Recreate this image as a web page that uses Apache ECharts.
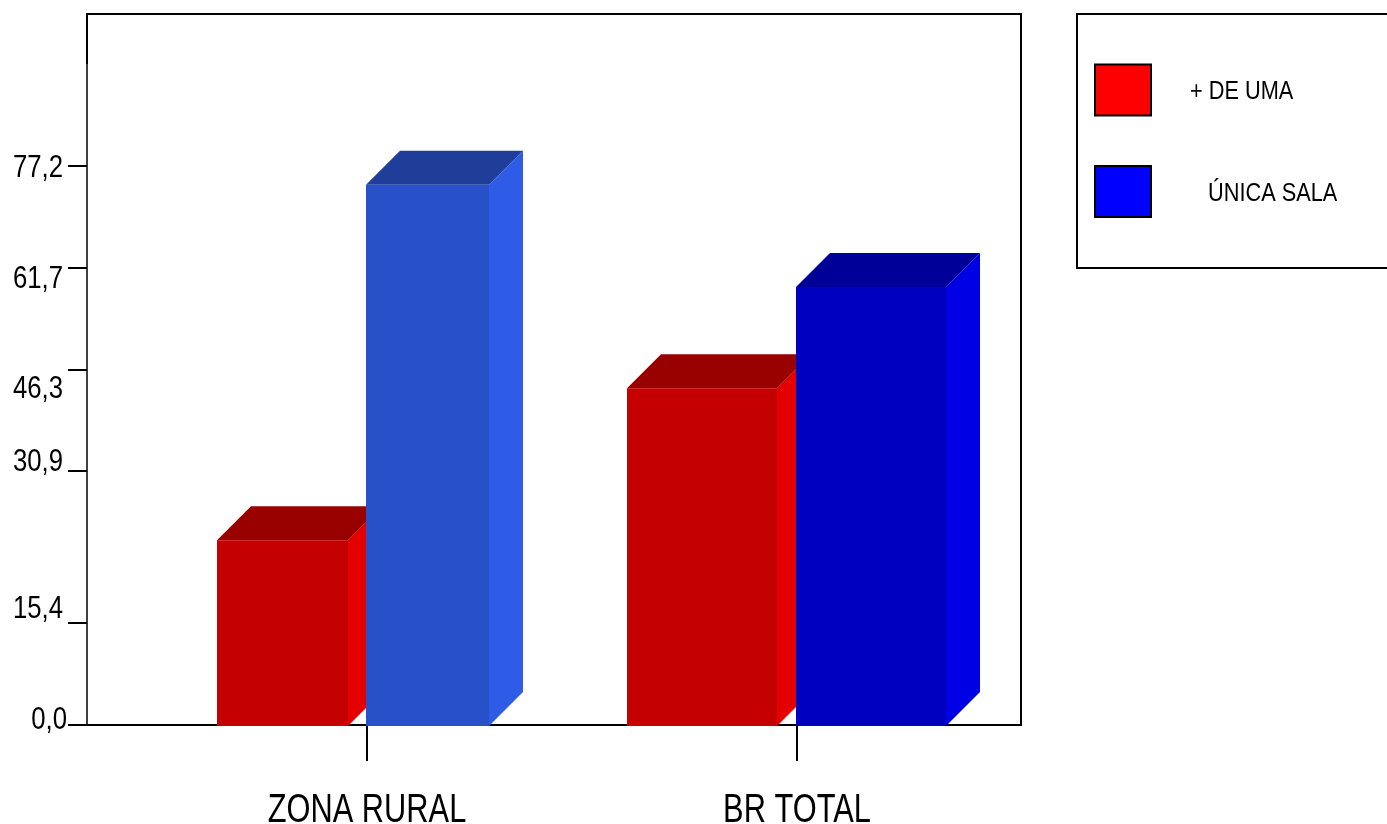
<!DOCTYPE html>
<html>
<head>
<meta charset="utf-8">
<title>Escolas por número de salas</title>
<style>html,body{margin:0;padding:0;background:#fff}#chart{width:1387px;height:824px}</style>
<script src="https://cdn.jsdelivr.net/npm/echarts@6/dist/echarts.min.js"></script>
</head>
<body>
<div id="chart"></div>
<script>
// Data
const categories = ['ZONA RURAL', 'BR TOTAL'];
const seriesNames = ['+ DE UMA', 'ÚNICA SALA'];
const deUma = [25.5, 46.5];
const unicaSala = [74.6, 60.5];

// Vertical axis: tick marks, their printed labels, and where each label sits
const tickLabels = ['0,0', '15,4', '30,9', '46,3', '61,7', '77,2'];
const tickValues = [0, 14.1, 35.1, 49.1, 63.1, 77.2];
const labelValues = [0.64, 15.9, 36.2, 46.3, 61.6, 76.8];

// Bar geometry in pixels relative to each category tick: [left, right]
const barExtents = [
  [[-150, -19], [-170, -20]],
  [[-1, 122], [-1, 149]]
];
const depth = 34;

// Face colours per series and category: front, top, side
const faces = [
  [['#c40000', '#990000', '#e40000'], ['#c40000', '#990000', '#e40000']],
  [['#2850c8', '#1f3e99', '#2f5ce6'], ['#0000c0', '#000098', '#0000e4']]
];

// All lettering is a horizontally condensed sans
const fontFamily = '"Liberation Sans", Arial, sans-serif';
const narrowText = (text, x, y, size, squeeze, align) => ({
  type: 'text',
  x, y,
  scaleX: squeeze,
  silent: true,
  style: { text, fontFamily, fontSize: size, fill: '#000', align, verticalAlign: 'middle' }
});

function renderBar(seriesIdx) {
  return function (params, api) {
    const cat = api.value(0);
    const top = api.coord([cat, api.value(1)]);
    const base = api.coord([cat, 0]);
    const ext = barExtents[seriesIdx][cat];
    const l = top[0] + ext[0], r = top[0] + ext[1];
    const t = top[1], b = base[1] + 1;
    const c = faces[seriesIdx][cat];
    return {
      type: 'group',
      children: [
        { type: 'polygon', shape: { points: [[r, t], [r + depth, t - depth], [r + depth, b - depth], [r, b]] }, style: { fill: c[2] } },
        { type: 'polygon', shape: { points: [[l, t], [l + depth, t - depth], [r + depth, t - depth], [r, t]] }, style: { fill: c[1] } },
        { type: 'rect', shape: { x: l, y: t, width: r - l, height: b - t }, style: { fill: c[0] } }
      ]
    };
  };
}

// Category names under the horizontal axis
function renderCategoryLabel(params, api) {
  const p = api.coord([api.value(0), 0]);
  return narrowText(categories[api.value(0)], p[0], p[1] + 85.5, 40, 0.77, 'center');
}

// Printed values left of the vertical axis
function renderValueLabel(params, api) {
  const p = api.coord([0, api.value(1)]);
  const right = params.dataIndex === 0 ? 67 : 63;
  return narrowText(tickLabels[params.dataIndex], right, p[1], 31, 0.83, 'right');
}

const toPoints = values => values.map((v, i) => [i, v]);

const chart = echarts.init(document.getElementById('chart'), null, { renderer: 'canvas' });
chart.setOption({
  animation: false,
  backgroundColor: '#fff',
  grid: { left: 152, width: 860, top: 14, height: 711, outerBoundsMode: 'none' },
  xAxis: {
    type: 'category',
    data: categories,
    axisLine: { show: false },
    axisTick: { show: true, alignWithLabel: true, length: 36, lineStyle: { color: '#000', width: 2 } },
    axisLabel: { show: false }
  },
  yAxis: {
    type: 'value',
    min: 0,
    max: 98.2,
    offset: 65,
    splitLine: { show: false },
    axisLine: { show: false },
    axisTick: { show: true, length: 19, customValues: tickValues, lineStyle: { color: '#000', width: 2 } },
    axisLabel: { show: false }
  },
  legend: {
    data: seriesNames,
    left: 1094,
    top: 63.5,
    orient: 'vertical',
    itemWidth: 56,
    itemHeight: 51,
    itemGap: 48.5,
    padding: 0,
    selectedMode: false,
    icon: 'rect',
    itemStyle: { borderColor: '#000', borderWidth: 2 },
    formatter: () => ''
  },
  graphic: [
    // Plot frame; the upper part of the left edge is slightly heavier
    { type: 'polyline', shape: { points: [[87, 64], [87, 14], [1021, 14], [1021, 725], [68, 725]] }, style: { stroke: '#000', lineWidth: 2, fill: null } },
    { type: 'line', shape: { x1: 87, y1: 64, x2: 87, y2: 725 }, style: { stroke: '#000', lineWidth: 1.5 } },
    // Legend box, running off the right edge of the page
    { type: 'polyline', shape: { points: [[1395, 14], [1077, 14], [1077, 268], [1395, 268]] }, style: { stroke: '#000', lineWidth: 2, fill: null } },
    // Legend entries
    { type: 'text', x: 1190, y: 92.6, scaleX: 0.87, style: { text: seriesNames[0], fontFamily, fontSize: 25, fill: '#000', align: 'left', verticalAlign: 'middle' } },
    { type: 'text', x: 1208, y: 194.3, scaleX: 0.87, style: { text: seriesNames[1], fontFamily, fontSize: 25, fill: '#000', align: 'left', verticalAlign: 'middle' } }
  ],
  series: [
    { name: seriesNames[0], type: 'custom', renderItem: renderBar(0), encode: { x: 0, y: 1 }, data: toPoints(deUma), itemStyle: { color: '#ff0000' }, z: 2, clip: false },
    { name: seriesNames[1], type: 'custom', renderItem: renderBar(1), encode: { x: 0, y: 1 }, data: toPoints(unicaSala), itemStyle: { color: '#0000ff' }, z: 3, clip: false },
    { type: 'custom', renderItem: renderCategoryLabel, encode: { x: 0, y: 1 }, data: categories.map((c, i) => [i, 0]), silent: true, clip: false, z: 4 },
    { type: 'custom', renderItem: renderValueLabel, encode: { x: 0, y: 1 }, data: labelValues.map(v => [0, v]), silent: true, clip: false, z: 4 }
  ]
});
</script>
</body>
</html>
